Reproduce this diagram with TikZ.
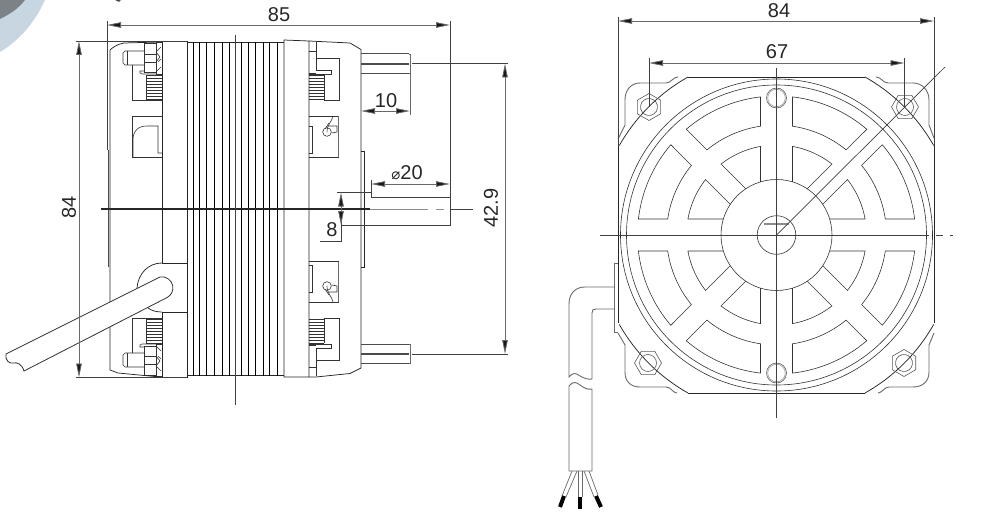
\documentclass[tikz,border=0pt]{standalone}
\usepackage{fontspec}
\setmainfont{Liberation Sans}
\newfontfamily\symfont{DejaVu Sans}
\usetikzlibrary{arrows.meta}
\definecolor{gline}{RGB}{105,105,105}
\definecolor{ringblue}{RGB}{200,214,226}
\definecolor{ringdark}{RGB}{125,130,135}
\tikzset{
  thin line/.style={line width=0.6pt,draw=black!80},
  body line/.style={line width=0.75pt,draw=black!85},
  grey line/.style={line width=0.9pt,draw=gline},
  dim line/.style={line width=0.8pt,draw=gline,{Triangle[length=14pt,width=5.5pt,fill=black!90]}-{Triangle[length=14pt,width=5.5pt,fill=black!90]}},
  ext line/.style={line width=0.75pt,draw=black!75},
  dimtext/.style={font=\fontsize{20}{21}\selectfont,text=black!85,inner sep=0pt},
  cable/.style={line width=0.8pt,draw=black!80,fill=white},
}
% one quadrant of the grille, local axes pointing to a corner
\newcommand{\grillewindows}{%
  \draw[thin line] (16,138.1) arc (83.4:49.5:139) -- (69.6,85.1) arc (50.7:81.6:110) -- cycle;
  \draw[thin line] (138.1,16) arc (6.6:40.5:139) -- (85.1,69.6) arc (39.3:8.4:110) -- cycle;
  \draw[thin line] (16,53.1) -- (16,88.6) arc (79.8:52:90) -- (30.7,46.2);
  \draw[thin line] (53.1,16) -- (88.6,16) arc (10.2:38:90) -- (46.2,30.7);
}
% hexagon nut at the origin
\newcommand{\nut}[2]{%
  \begin{scope}[shift={#1},rotate=#2]
  \draw[thin line,draw=black!65] (0:13.5) -- (60:13.5) -- (120:13.5) -- (180:13.5) -- (240:13.5) -- (300:13.5) -- cycle;
  \draw[thin line,draw=black!65] (0,0) circle (8.5);
  \end{scope}}
% upper half of the inner parts, mirrored about y=209
\newcommand{\halfparts}{%
  % left bolt
  \draw[thin line] (144,51) -- (125,51) -- (123,53) -- (123,63) -- (125,65) -- (144,65);
  \draw[thin line] (127,51) -- (127,65);
  \draw[thin line] (144,43) rectangle (156,72);
  \draw[thin line] (144,54) -- (156,54) (144,62) -- (156,62);
  \draw[thin line] (156,42) rectangle (162,74);
  \draw[thin line] (156,52) -- (161,47) (156,62) -- (160,57) -- (156,52) (156,72) -- (161,67) (158,62) -- (161,59);
  \draw[thin line] (156,74) -- (142,74) -- (140,73) -- (140,71) -- (144,71);
  \draw[thin line] (132,65) -- (132,100) -- (162,100);
  % left coil
  \foreach \yy in {75,78,...,99} {\draw[thin line,line width=0.7pt] (146,\yy) -- (162,\yy);}
  \draw[thin line] (146,75) -- (146,100);
  % right cover parts
  \draw[thin line] (316,42) -- (316,70) -- (331,70) -- (331,74) -- (309,74);
  \draw[thin line] (309,51) -- (316,51) (309,73) -- (316,73);
  \draw[thin line] (316,58) -- (339,58) -- (339,100) -- (324,100);
  \foreach \yy in {75,78,...,99} {\draw[thin line,line width=0.7pt] (309,\yy) -- (324,\yy);}
  \draw[thin line] (324,75) -- (324,100);
  \draw[thin line] (309,116) -- (339,116);
  \draw[grey line,line width=1.1pt] (338.5,116) -- (338.5,157);
  \draw[thin line] (309,157) -- (339,157);
  \draw[thin line] (309,126) -- (312,126) -- (312,153) -- (309,153);
  % terminal
  \draw[thin line] (327,132) circle (4.3);
  \draw[thin line] (328,126) -- (337,126) -- (337,132) -- (332,133);
  \draw[thin line] (333,116) .. controls (332,122) and (327,124) .. (327,132);
  \draw[thin line] (329,123) -- (325,129);
}
\begin{document}
\begin{tikzpicture}[x=1pt,y=1pt,yscale=-1]
\useasboundingbox (0,0) rectangle (999,524);
% photograph scrap at the corner
\fill[ringblue] (0,0) -- (45,0) .. controls (35,22) and (20,40) .. (0,52) -- cycle;
\fill[ringdark] (0,0) -- (25,0) .. controls (18,9) and (10,14) .. (0,19) -- cycle;
\fill[black!70] (115,0) -- (121,0) -- (119,2) -- cycle;

% ---------- left view ----------
% parts
\halfparts
\begin{scope}[yshift=418pt,yscale=-1]
\halfparts
\end{scope}
% left bobbin recess (upper only)
\draw[thin line] (132,116) -- (162,116) (132,116) -- (132,157) -- (162,157);
\draw[thin line] (133,157) -- (133,140) .. controls (133,131) and (138,126) .. (147,126) -- (158,126) -- (158,153) -- (162,153);
% left cover
\draw[body line] (160,42) -- (124,43) .. controls (118,44) and (113,47) .. (110,50) -- (110,370) -- (118,373) -- (160,377);
\draw[body line,draw=black!70,line width=0.9pt] (108,150) -- (108,267);
% flanges
\draw[body line] (162,41) -- (187,41) -- (187,377) -- (162,377) -- (162,312) -- (187,312);
\draw[body line] (162,41) -- (162,263) -- (187,263);
\draw[body line] (162,263) .. controls (148,263) and (138,274) .. (137,288);
\draw[body line] (148,308) .. controls (152,311) and (157,312) .. (162,312);
% fins
\draw[body line] (187,42) -- (284,42) (187,375.5) -- (284,375.5);
\foreach \xx in {193,199,206,214,222,229,241,248,255,263,269,277} {\draw[body line,draw=black,line width=0.8pt] (\xx,42) -- (\xx,375.5);}
\draw[body line] (284,40) -- (309,41) -- (309,377) -- (284,377) -- cycle;
% right cover
\draw[body line] (309,41) -- (350,43) -- (361,49.5) -- (361,368) -- (350,373.5) -- (316,377) -- (309,377);
\draw[body line] (361,151) -- (364,151) -- (364,267) -- (361,267);
% pins
\foreach \yt/\ym/\yb in {54/64/73.5,344/354/363.5} {
  \draw[body line,draw=black!70,line width=1pt] (361,\yt) -- (409,\yt) (361,\yb) -- (409,\yb);
  \draw[body line,draw=black!70,line width=1.1pt] (361,\ym) -- (409,\ym);
  \draw[grey line] (409,\yt) -- (410,\yt) -- (410,\yb) -- (409,\yb);
}
% cable
\draw[cable] (6,354) -- (160,277) arc (-100:60:11) -- (24,371) .. controls (22,364) and (17,362) .. (13,363) .. controls (9,364) and (5,360) .. (6,354) -- cycle;
% centre lines
\draw[body line,line width=1.2pt,draw=black!85] (101,209) -- (370,209);
\draw[grey line,draw=black!45] (370,209) -- (428,209) (436,209) -- (444,209);
\draw[ext line] (450,209) -- (473,209);
\draw[ext line] (235,35) -- (235,405);
% dimension 85
\draw[ext line] (107,21) -- (107,150);
\draw[ext line] (450,21) -- (450,225) -- (341,225);
\draw[dim line] (107,25) -- (450,25);
\node[dimtext] (t85) at (279,15) {85};
% dimension 84 left
\draw[ext line] (76,41) -- (187,41) (76,377.5) -- (187,377.5);
\draw[dim line] (79,41) -- (79,377.5);
\node[dimtext,rotate=90] (t84l) at (69,207) {84};
% dimension 10
\draw[grey line,line width=0.8pt] (410,73) -- (410,115);
\draw[dim line] (361,111) -- (410,111);
\node[dimtext] (t10) at (386,101) {10};
% dimension phi 20
\draw[ext line] (371,180) -- (371,197) -- (450,197);
\draw[ext line] (337,192) -- (371,192);
\draw[dim line] (371,184) -- (450,184);
\node[dimtext] (t20) at (407,173) {{\symfont\fontsize{15}{16}\selectfont ⌀}20};
% dimension 8
\draw[ext line] (320,241) -- (341,241) -- (341,200);
\draw[dim line,{Triangle[length=14pt,width=5.5pt,fill=black!90]}-] (341,192.5) -- (341,209);
\draw[dim line,-{Triangle[length=14pt,width=5.5pt,fill=black!90]}] (341,209) -- (341,225);
\node[dimtext] (t8) at (332,230) {8};
% dimension 42.9
\draw[ext line] (412,63.5) -- (508,63.5) (412,354) -- (508,354);
\draw[dim line] (505,63.5) -- (505,354);
\node[dimtext,rotate=90] (t429) at (491,208) {42.9};

% ---------- right view ----------
% housing ears and edge
\draw[grey line] (678,77) .. controls (673,77) and (671,83) .. (666,83) -- (640,83) .. controls (631,83) and (625,90) .. (625,100) -- (625,125) -- (618,139);
\draw[grey line] (876,77) .. controls (881,77) and (883,83) .. (888,83) -- (913,83) .. controls (922,83) and (929,90) .. (929,100) -- (929,125) -- (934,138);
\draw[grey line] (677,393) .. controls (673,393) and (671,387) .. (666,387) -- (640,387) .. controls (631,387) and (625,382) .. (625,372) -- (625,345) -- (618,333);
\draw[grey line] (878,393) .. controls (882,393) and (884,387) .. (889,387) -- (913,387) .. controls (922,387) and (929,382) .. (929,372) -- (929,345) -- (934,333);
\draw[body line] (688,77) -- (865,77) (688,393) -- (865,393);
\draw[body line] (618,146) -- (618,323) (934,146) -- (934,323);
% corner arcs
\draw[body line] (688,77) arc (-119.4:-150.5:181);
\draw[body line] (865,77) arc (-60.6:-29.5:181);
\draw[body line] (688,393) arc (119.4:150.5:181);
\draw[body line] (865,393) arc (60.6:29.5:181);
% rings and hub
\draw[thin line] (776.5,235) circle (156);
\draw[thin line] (776.5,235) circle (150);
\draw[thin line] (776.5,235) circle (55.5);
\draw[thin line] (776.5,235) circle (19.3);
\draw[grey line,draw=black!45,line width=1.1pt] (764,224) -- (789,224);
% grille
\foreach \sx/\sy in {1/1,-1/1,1/-1,-1/-1} {
  \begin{scope}[shift={(776.5,235)},xscale=\sx,yscale=\sy]
    \grillewindows
  \end{scope}
}
% holes
\foreach \yy in {98,373} {
  \draw[thin line,draw=black!65] (776.5,\yy) circle (10);
  \draw[thin line,draw=black!40] (776.5,\yy) circle (8.8);
}
% nuts
\nut{(649,107)}{30}
\nut{(905,107)}{0}
\nut{(648,363)}{0}
\nut{(904,363)}{30}
% centre lines
\draw[ext line] (600,235) -- (929,235);
\draw[ext line] (936,235) -- (943,235) (950,235) -- (953,235);
\draw[ext line] (776.5,68) -- (776.5,418);
\draw[ext line,line width=0.7pt] (776.5,235) -- (945,67);
% dimension 84 right view
\draw[ext line] (618,17) -- (618,146) (934,17) -- (934,146);
\draw[dim line] (618,21) -- (934,21);
\node[dimtext] (t84r) at (779,11) {84};
% dimension 67
\draw[ext line] (649,58) -- (649,107) (904.5,58) -- (904.5,107);
\draw[dim line] (649,63) -- (904.5,63);
\node[dimtext] (t67) at (777,52) {67};
% flange and cable
\draw[grey line] (618,263) -- (614,263) -- (614,332) -- (618,332);
\draw[grey line] (614,287) -- (585,287) .. controls (575,287) and (569,294) .. (569,304) -- (569,377) .. controls (573,372) and (576,373) .. (580,376) .. controls (584,378) and (588,380) .. (592,379) -- (592,313) .. controls (592,310) and (593,309) .. (596,309) -- (614,309);
\draw[grey line] (569,386) .. controls (573,381) and (576,382) .. (580,385) .. controls (584,388) and (588,390) .. (592,389) -- (592,471) -- (569,471) -- cycle;
% wires
\draw[grey line,line width=0.7pt] (572,471) -- (562,496) (577,471) -- (566,497);
\draw[grey line,line width=0.7pt] (578,471) -- (578,497) (582,471) -- (582,497);
\draw[grey line,line width=0.7pt] (584,471) -- (594,497) (589,471) -- (598,495);
\draw[black,line width=4pt] (564,496) -- (560,507);
\draw[black,line width=4pt] (580,497) -- (580,509);
\draw[black,line width=4pt] (596,496) -- (601,507);
\end{tikzpicture}
\end{document}
